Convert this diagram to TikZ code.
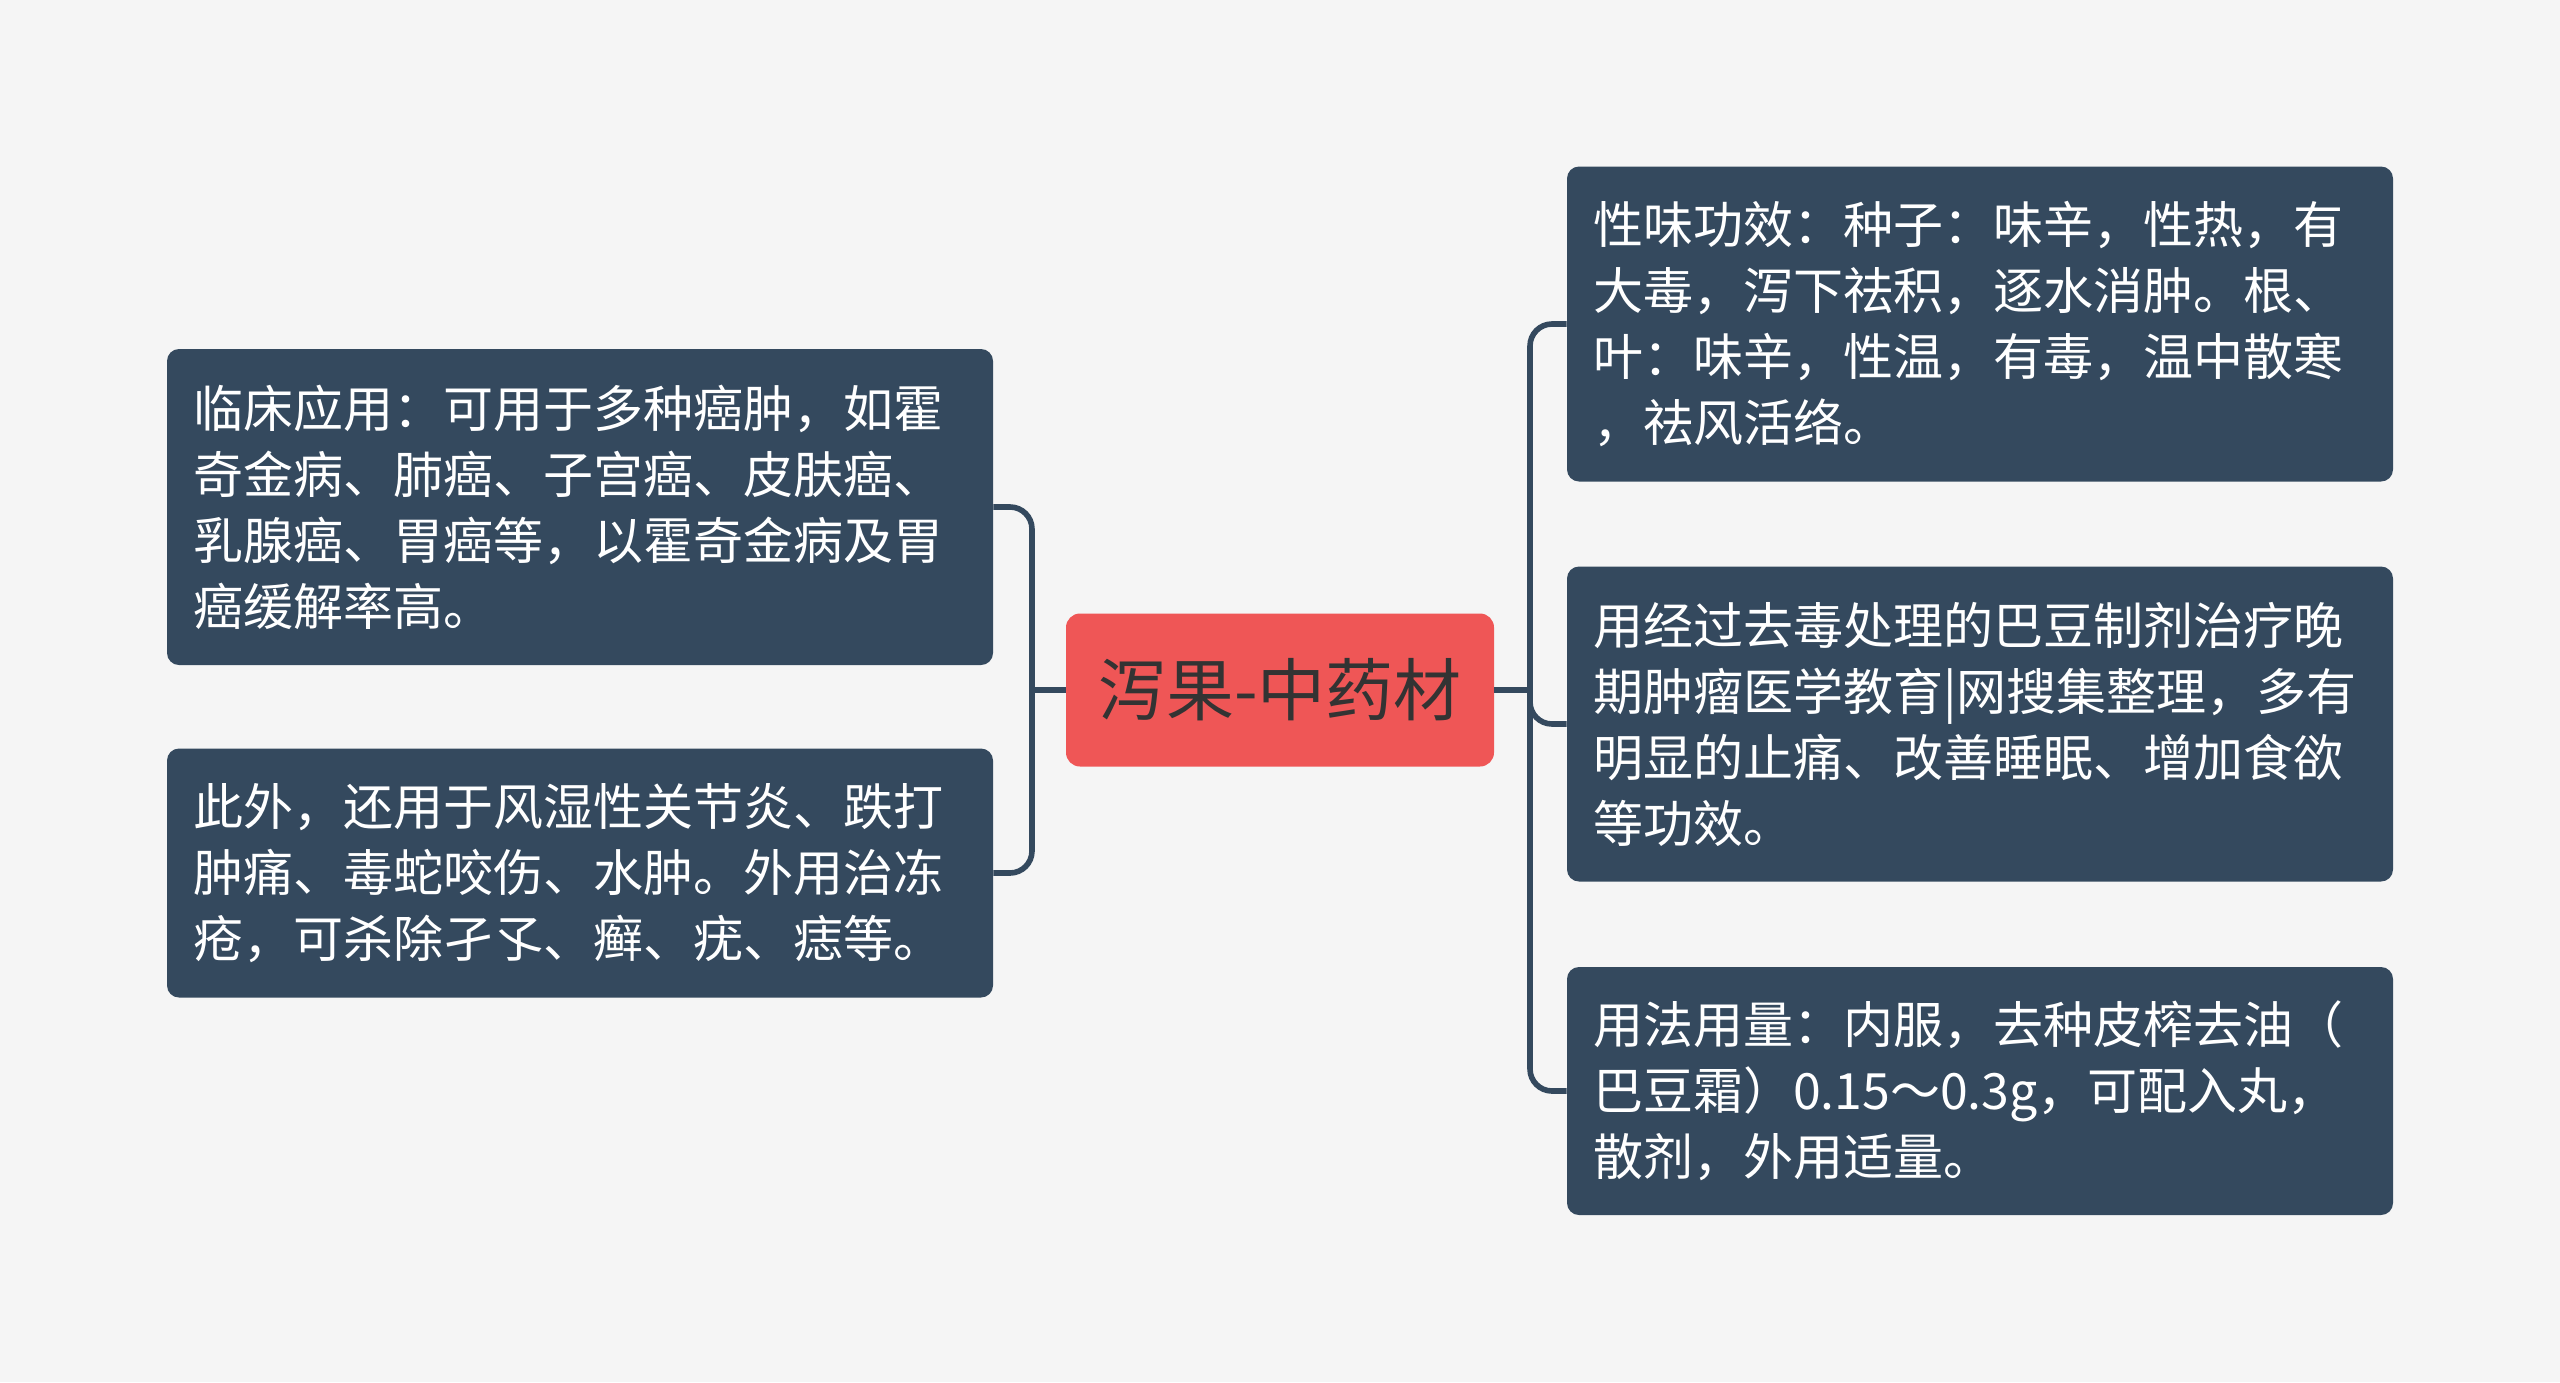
\documentclass[tikz,border=0pt]{standalone}
\usepackage{fontspec}
\setmainfont{Noto Sans CJK SC}
\definecolor{bgc}{HTML}{F5F5F5}
\definecolor{leafc}{HTML}{34495E}
\definecolor{rootc}{HTML}{EF5656}
\definecolor{roottext}{HTML}{333333}
\begin{document}
\begin{tikzpicture}[x=0.5pt,y=-0.5pt,
  leaf/.style={fill=leafc, draw=none, rounded corners=6pt, text=white,
    font=\fontsize{25pt}{33pt}\selectfont, align=left, text width=387pt,
    inner xsep=13pt, inner ysep=0pt, anchor=center},
  root/.style={fill=rootc, draw=none, rounded corners=7pt, text=roottext,
    font=\fontsize{34pt}{40pt}\selectfont, minimum width=214pt, minimum height=76.5pt,
    inner sep=0pt, anchor=center},
  conn/.style={draw=leafc, line width=2.8pt, rounded corners=11pt}]
\useasboundingbox[fill=bgc] (0,0) rectangle (2560,1382);

\node[root] (C) at (1280,690) {泻果-中药材};

\node[leaf, minimum height=158pt] (L1) at (580,507) {临床应用：可用于多种癌肿，如霍\\奇金病、肺癌、子宫癌、皮肤癌、\\乳腺癌、胃癌等，以霍奇金病及胃\\癌缓解率高。};
\node[leaf, minimum height=124.5pt] (L2) at (580,873) {此外，还用于风湿性关节炎、跌打\\肿痛、毒蛇咬伤、水肿。外用治冻\\疮，可杀除孑孓、癣、疣、痣等。};

\node[leaf, minimum height=157.5pt] (R1) at (1980,324) {性味功效：种子：味辛，性热，有\\大毒，泻下祛积，逐水消肿。根、\\叶：味辛，性温，有毒，温中散寒\\，祛风活络。};
\node[leaf, minimum height=157.5pt] (R2) at (1980,724) {用经过去毒处理的巴豆制剂治疗晚\\期肿瘤医学教育|网搜集整理，多有\\明显的止痛、改善睡眠、增加食欲\\等功效。};
\node[leaf, minimum height=124pt] (R3) at (1980,1091) {用法用量：内服，去种皮榨去油（\\巴豆霜）0.15～0.3g，可配入丸，\\散剂，外用适量。};

\coordinate (lj) at (1032,690);
\coordinate (rj) at (1530,690);

\draw[conn] (L1.east) -- (lj |- L1.east) -- (lj |- L2.east) -- (L2.east);
\draw[conn] (C.west) -- (lj);

\draw[conn] (R1.west) -- (rj |- R1.west) -- (rj |- R3.west) -- (R3.west);
\draw[conn] (C.east) -- (rj);
\draw[conn] (rj) -- (rj |- R2.west) -- (R2.west);
\end{tikzpicture}
\end{document}
